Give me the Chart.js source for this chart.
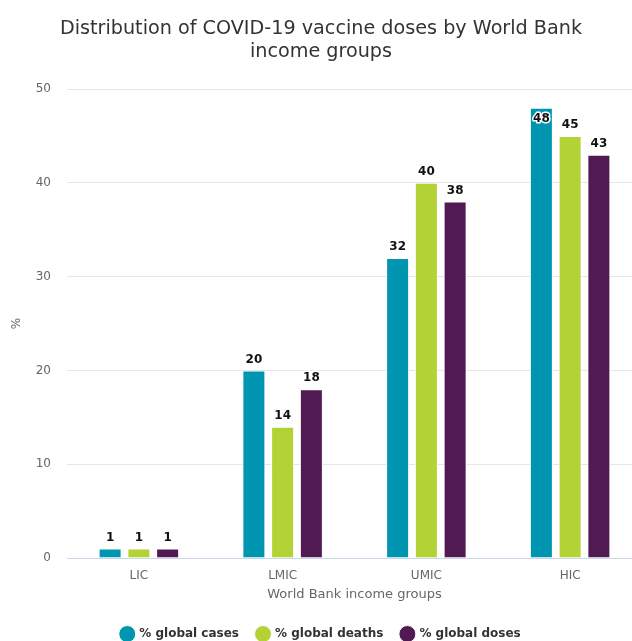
<!DOCTYPE html>
<html>
<head>
<meta charset="utf-8">
<script src="https://cdn.jsdelivr.net/npm/chart.js@4/dist/chart.umd.min.js"></script>
<style>
html,body{margin:0;padding:0;background:#fff;overflow:hidden;}
#wrap{width:644px;height:641px;position:relative;}
</style>
</head>
<body>
<div id="wrap"><canvas id="c" width="644" height="641"></canvas></div>
<script>
const categories = ["LIC", "LMIC", "UMIC", "HIC"];
const globalCases = [1, 20, 32, 48];
const globalDeaths = [1, 14, 40, 45];
const globalDoses = [1, 18, 38, 43];
const seriesNames = ["% global cases", "% global deaths", "% global doses"];
const yTicks = [0, 10, 20, 30, 40, 50];

const FONT = "'DejaVu Sans', 'Lucida Grande', Arial, sans-serif";

const labelPlugin = {
  id: 'barLabels',
  afterDatasetsDraw(chart) {
    const ctx = chart.ctx;
    const area = chart.chartArea;
    ctx.save();
    ctx.font = "bold 12px " + FONT;
    ctx.textAlign = 'center';
    ctx.textBaseline = 'bottom';
    chart.data.datasets.forEach((ds, i) => {
      const meta = chart.getDatasetMeta(i);
      meta.data.forEach((bar, j) => {
        const txt = String(ds.data[j]);
        let y = bar.y - 5;
        if (bar.y - area.top < 24) { y = bar.y + 17; }
        ctx.lineJoin = 'round';
        ctx.lineWidth = 3;
        ctx.strokeStyle = '#ffffff';
        ctx.strokeText(txt, bar.x, y);
        ctx.fillStyle = '#111111';
        ctx.fillText(txt, bar.x, y);
      });
    });
    ctx.restore();
  }
};

new Chart(document.getElementById('c'), {
  type: 'bar',
  data: {
    labels: categories,
    datasets: [
      { label: seriesNames[0], data: globalCases, backgroundColor: '#0095b0' },
      { label: seriesNames[1], data: globalDeaths, backgroundColor: '#b2d235' },
      { label: seriesNames[2], data: globalDoses, backgroundColor: '#521a53' }
    ].map(d => Object.assign(d, { borderColor: '#ffffff', borderWidth: 1, categoryPercentage: 0.6, barPercentage: 0.8 }))
  },
  options: {
    responsive: false,
    devicePixelRatio: 1,
    animation: false,
    layout: { padding: { left: 0, right: 2, top: 17, bottom: -9 } },
    plugins: {
      title: {
        display: true,
        text: ["Distribution of COVID-19 vaccine doses by World Bank", "income groups"],
        color: '#333333',
        font: { family: FONT, size: 19.2, weight: 'normal', lineHeight: 1.2 },
        padding: { top: 0, bottom: 26 }
      },
      legend: {
        position: 'bottom',
        labels: {
          usePointStyle: true,
          pointStyle: 'circle',
          boxWidth: 12,
          boxHeight: 12,
          padding: 18,
          color: '#333333',
          font: { family: FONT, size: 12, weight: 'bold' }
        }
      },
      tooltip: { enabled: false }
    },
    scales: {
      x: {
        grid: { display: false, drawTicks: false },
        border: { display: true, color: '#ccd6eb', width: 1 },
        ticks: { color: '#666666', font: { family: FONT, size: 12 }, padding: 11 },
        title: { display: true, text: 'World Bank income groups', color: '#666666', font: { family: FONT, size: 13 }, padding: { top: 0, bottom: 8 } },
        afterFit(scale) { scale.height = 52; }
      },
      y: {
        min: 0, max: 50,
        afterBuildTicks(scale) { scale.ticks = yTicks.map(v => ({ value: v })); },
        grid: { color: '#e6e6e6', drawTicks: false },
        border: { display: false },
        ticks: { color: '#666666', font: { family: FONT, size: 12 }, padding: 16 },
        title: { display: true, text: '%', color: '#666666', font: { family: FONT, size: 12 }, padding: { top: 10, bottom: 12 } },
        afterFit(scale) { scale.width = 67; }
      }
    }
  },
  plugins: [labelPlugin]
});
</script>
</body>
</html>
